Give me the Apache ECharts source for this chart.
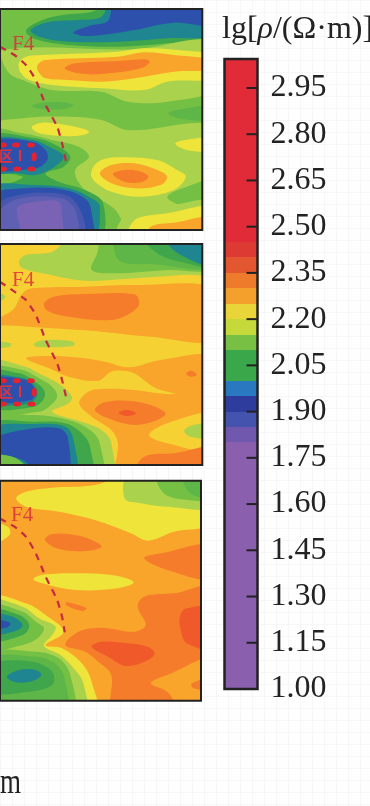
<!DOCTYPE html>
<html>
<head>
<meta charset="utf-8">
<title>lg resistivity sections</title>
<script src="https://cdn.jsdelivr.net/npm/echarts@6/dist/echarts.min.js"></script>
<style>
html, body { margin: 0; padding: 0; overflow: hidden; background-color: #fefefe; }
body {
    background-image: linear-gradient(#f6f6f6 1px, transparent 1px), linear-gradient(90deg, #f6f6f6 1px, transparent 1px);
    background-size: 12px 12px;
}
#main { width: 370px; height: 806px; }
</style>
</head>
<body>
<div id="main"></div>
<script>
// colour bar: lower edge of each band, top of the scale is 3.044
const barEdges = [1.0, 1.8, 1.85, 1.9, 1.95, 2.0, 2.1, 2.15, 2.2, 2.25, 2.3, 2.35, 2.4, 2.45, 3.044]
const barColors = ['#8a5fae', '#6f58ae', '#4453ad', '#2e3d9d', '#2a78c0', '#39a74a', '#78c044', '#c6d93b',
    '#e9d53a', '#f3a02c', '#ee7a2b', '#e2572f', '#dd3a34', '#e12b38']
const barTicks = [1.15, 1.3, 1.45, 1.6, 1.75, 1.9, 2.05, 2.2, 2.35, 2.5, 2.65, 2.8, 2.95]

// levels used in the sections and how they were printed there
const LV = { c: 1.8, p: 1.85, i: 1.875, b: 1.9, t: 1.975, g: 2.05, m: 2.1, l: 2.125, y: 2.175, e: 2.225, o: 2.275, a: 2.325, d: 2.375, r: 2.425 }
const mapColors = {
    1.8: '#7a63b4', 1.85: '#5f5fb3', 1.875: '#4858ae', 1.9: '#2d50ad', 1.975: '#1f8590', 2.05: '#3fa64b',
    2.1: '#5db647', 2.125: '#74c045', 2.175: '#abd24c', 2.225: '#efe43a', 2.275: '#f6d133', 2.325: '#f9a52b',
    2.375: '#f47c2b', 2.425: '#f0592a'
}

// traced contour regions [level, outline], painted in order
const section1 = [
    [LV.l, [[-40, -20], [650, -20], [650, 720], [-40, 720]]],
    [LV.g, [[70, 92], [120, 60], [180, 45], [280, 32], [320, -5], [650, -5], [650, 112], [500, 130], [350, 140], [200, 135], [100, 118]]],
    [LV.t, [[85, 90], [140, 66], [230, 60], [300, 50], [335, -5], [650, -5], [650, 100], [500, 115], [350, 125], [200, 125], [110, 110]]],
    [LV.b, [[215, 97], [270, 76], [320, 62], [345, -5], [650, -5], [650, 74], [520, 68], [400, 90], [300, 105], [240, 107]]],
    [LV.y, [[0, 150], [400, 148], [650, 125], [650, 262], [500, 305], [380, 305], [300, 275], [150, 270], [60, 240], [15, 215]]],
    [LV.e, [[48, 190], [70, 170], [120, 165], [350, 155], [430, 145], [530, 150], [650, 170], [650, 232], [500, 245], [430, 270], [300, 265], [150, 255], [80, 240], [55, 220]]],
    [LV.a, [[105, 195], [130, 180], [350, 170], [430, 157], [520, 165], [650, 182], [650, 207], [520, 215], [400, 235], [300, 245], [200, 240], [130, 235], [108, 215]]],
    [LV.d, [[188, 205], [220, 190], [350, 183], [430, 178], [447, 185], [420, 205], [300, 222], [230, 220]]],
    [LV.m, [[90, 315], [160, 305], [215, 315], [180, 328], [100, 325]]],
    [LV.m, [[503, 340], [560, 325], [650, 318], [650, 358], [550, 358]]],
    [LV.y, [[-40, 385], [60, 355], [200, 350], [300, 360], [380, 390], [650, 390], [650, 720], [-40, 720]]],
    [LV.l, [[500, 590], [560, 560], [650, 540], [650, 620], [540, 615]]],
    [LV.e, [[525, 430], [570, 418], [650, 413], [650, 452], [560, 450]]],
    [LV.e, [[88, 380], [120, 368], [190, 375], [250, 388], [262, 398], [220, 408], [140, 405], [100, 395]]],
    [LV.l, [[-40, 395], [60, 400], [150, 420], [230, 440], [262, 470], [220, 510], [240, 560], [300, 600], [350, 640], [370, 720], [-40, 720]]],
    [LV.g, [[-40, 415], [100, 415], [170, 440], [205, 470], [185, 500], [130, 520], [170, 545], [250, 570], [305, 610], [290, 720], [-40, 720]]],
    [LV.l, [[-40, 520], [60, 530], [20, 550], [-40, 555]]],
    [LV.t, [[-40, 420], [90, 420], [150, 445], [185, 470], [150, 505], [100, 525], [40, 520], [-40, 515]]],
    [LV.t, [[-40, 565], [100, 555], [200, 565], [270, 595], [295, 620], [270, 720], [-40, 720]]],
    [LV.b, [[-40, 425], [90, 425], [130, 450], [135, 480], [100, 505], [-40, 505]]],
    [LV.b, [[-40, 590], [60, 565], [190, 570], [255, 600], [270, 640], [268, 720], [-40, 720]]],
    [LV.i, [[-40, 640], [25, 590], [190, 585], [240, 640], [240, 720], [-40, 720]]],
    [LV.p, [[-40, 670], [35, 600], [180, 595], [222, 635], [220, 720], [-20, 720]]],
    [LV.c, [[45, 620], [100, 605], [170, 605], [180, 640], [175, 720], [70, 720], [45, 650]]],
    [LV.y, [[350, 720], [370, 650], [500, 620], [650, 605], [650, 720]]],
    [LV.e, [[385, 682], [410, 655], [500, 640], [650, 622], [650, 720], [380, 720]]],
    [LV.a, [[450, 680], [520, 668], [650, 652], [650, 720], [440, 720]]],
    [LV.e, [[268, 520], [290, 485], [350, 472], [470, 480], [530, 510], [557, 530], [520, 570], [420, 590], [330, 575], [280, 545]]],
    [LV.a, [[295, 520], [330, 495], [400, 490], [470, 510], [500, 530], [480, 555], [400, 565], [330, 550]]],
    [LV.d, [[335, 522], [370, 510], [420, 515], [443, 530], [420, 547], [370, 545]]]
]
const section2 = [
    [LV.o, [[-40, -20], [650, -20], [650, 720], [-40, 720]]],
    [LV.y, [[48, 65], [70, 45], [150, 35], [215, -10], [650, -10], [650, 95], [540, 105], [400, 115], [250, 122], [120, 100], [60, 85]]],
    [LV.l, [[270, 90], [285, 45], [310, -10], [650, -10], [650, 85], [500, 90], [340, 100]]],
    [LV.m, [[345, -10], [345, 50], [375, 70], [450, 72], [650, 82], [650, -10]]],
    [LV.g, [[430, -10], [470, 40], [540, 65], [650, 78], [650, -10]]],
    [LV.t, [[495, -10], [530, 38], [650, 78], [650, -10]]],
    [LV.a, [[-40, 250], [30, 210], [60, 160], [90, 145], [250, 140], [400, 135], [650, 150], [650, 297], [450, 290], [300, 275], [150, 265], [50, 258]]],
    [LV.d, [[125, 190], [155, 170], [250, 162], [400, 163], [415, 190], [395, 215], [330, 240], [200, 230], [135, 212]]],
    [LV.y, [[95, 310], [130, 300], [215, 305], [215, 318], [100, 320]]],
    [LV.y, [[-40, 305], [25, 310], [20, 320], [-40, 322]]],
    [LV.y, [[-40, 155], [8, 170], [-40, 195]]],
    [LV.a, [[70, 355], [130, 348], [220, 352], [310, 365], [385, 382], [480, 360], [650, 350], [650, 462], [480, 450], [400, 400], [375, 393], [330, 395], [290, 422], [200, 410], [140, 385]]],
    [LV.d, [[558, 400], [575, 392], [590, 405], [570, 410]]],
    [LV.a, [[232, 490], [260, 455], [300, 447], [400, 450], [500, 462], [650, 458], [650, 720], [350, 720], [350, 610], [330, 570], [270, 530]]],
    [LV.o, [[445, 585], [500, 550], [650, 522], [650, 630], [500, 610]]],
    [LV.y, [[552, 572], [580, 555], [650, 550], [650, 592], [570, 590]]],
    [LV.d, [[280, 510], [310, 487], [380, 482], [450, 495], [495, 520], [470, 540], [400, 555], [320, 535]]],
    [LV.r, [[352, 518], [380, 510], [405, 520], [380, 528]]],
    [LV.d, [[405, 700], [430, 650], [520, 640], [650, 625], [650, 720]]],
    [LV.y, [[-40, 370], [60, 378], [120, 405], [175, 435], [210, 470], [200, 490], [150, 515], [240, 545], [300, 570], [330, 610], [325, 720], [-40, 720]]],
    [LV.l, [[-40, 385], [60, 390], [110, 415], [150, 440], [165, 470], [140, 500], [110, 515], [-40, 518]]],
    [LV.l, [[-40, 540], [90, 525], [200, 540], [265, 570], [295, 610], [295, 720], [-40, 720]]],
    [LV.g, [[-40, 395], [50, 400], [90, 420], [125, 450], [125, 475], [95, 500], [-40, 500]]],
    [LV.g, [[-40, 555], [100, 545], [190, 550], [240, 580], [265, 620], [265, 720], [-40, 720]]],
    [LV.t, [[-40, 410], [50, 412], [90, 430], [105, 460], [90, 485], [40, 495], [-40, 490]]],
    [LV.t, [[-40, 570], [100, 552], [190, 560], [215, 600], [215, 720], [-40, 720]]],
    [LV.b, [[-40, 418], [70, 420], [97, 450], [85, 480], [-40, 482]]],
    [LV.b, [[-40, 600], [60, 570], [170, 565], [198, 595], [195, 720], [100, 690], [60, 660], [-40, 630]]],
    [LV.l, [[-40, 652], [40, 655], [95, 720], [-40, 720]]]
]
const section3 = [
    [LV.a, [[-40, -20], [650, -20], [650, 720], [-40, 720]]],
    [LV.e, [[40, 70], [70, 50], [150, 38], [280, 30], [385, -5], [650, -5], [650, 140], [520, 170], [440, 197], [390, 175], [280, 135], [170, 110], [70, 95]]],
    [LV.y, [[370, 70], [385, -5], [650, -5], [650, 95], [500, 95], [420, 85]]],
    [LV.l, [[470, -5], [490, 55], [560, 75], [650, 70], [650, -5]]],
    [LV.m, [[550, -5], [570, 55], [650, 65], [650, -5]]],
    [LV.d, [[128, 195], [150, 177], [220, 180], [270, 195], [300, 215], [250, 228], [170, 222]]],
    [LV.d, [[430, 250], [480, 235], [650, 210], [650, 312], [500, 285]]],
    [LV.e, [[92, 312], [130, 298], [250, 295], [350, 303], [398, 322], [350, 340], [220, 345], [120, 325]]],
    [LV.e, [[-40, 145], [15, 155], [20, 180], [-40, 208]]],
    [LV.d, [[195, 382], [255, 400], [240, 408], [192, 390]]],
    [LV.d, [[190, 510], [230, 470], [300, 458], [400, 470], [435, 450], [410, 395], [430, 365], [520, 355], [650, 340], [650, 720], [530, 720], [335, 720], [330, 600], [290, 560], [250, 530]]],
    [LV.a, [[450, 625], [500, 600], [650, 550], [650, 720], [535, 690], [500, 650]]],
    [LV.r, [[540, 420], [560, 400], [650, 400], [650, 520], [560, 505], [540, 460]]],
    [LV.r, [[270, 515], [300, 500], [380, 505], [440, 515], [462, 537], [420, 565], [370, 572], [320, 545]]],
    [LV.d, [[575, 625], [650, 605], [650, 645], [580, 640]]],
    [LV.e, [[-40, 370], [70, 385], [130, 420], [185, 470], [130, 510], [180, 520], [240, 565], [270, 620], [280, 720], [-40, 720]]],
    [LV.y, [[-40, 382], [60, 395], [110, 430], [160, 455], [150, 480], [125, 512], [175, 540], [220, 585], [245, 625], [248, 720], [-40, 720]]],
    [LV.l, [[-40, 392], [60, 410], [100, 440], [125, 460], [105, 490], [60, 510], [-40, 520]]],
    [LV.l, [[-40, 540], [100, 530], [170, 550], [205, 600], [210, 720], [-40, 720]]],
    [LV.g, [[-40, 405], [50, 420], [80, 450], [60, 480], [-40, 495]]],
    [LV.m, [[-40, 555], [100, 545], [165, 570], [190, 620], [190, 720], [-40, 720]]],
    [LV.g, [[-40, 570], [90, 560], [150, 590], [150, 630], [80, 650], [-40, 650]]],
    [LV.t, [[-40, 420], [30, 425], [60, 452], [30, 470], [-40, 478]]],
    [LV.t, [[12, 605], [50, 585], [100, 585], [117, 600], [90, 618], [40, 622]]],
    [LV.b, [[-40, 435], [15, 440], [23, 448], [10, 458], [-40, 460]]]
]

// fault F4
const fault1 = [[-10, 140], [35, 165], [70, 195], [100, 240], [130, 315], [165, 380], [180, 430], [192, 485]]
const fault2 = [[-10, 125], [35, 155], [70, 180], [100, 225], [130, 300], [165, 370], [180, 420], [192, 470]]
const fault3 = [[-10, 130], [35, 155], [70, 185], [100, 235], [130, 305], [165, 375], [180, 425], [188, 472]]

// dotted outline of the low-resistivity zone, last point is the one on the right side
const zone1 = [[0, 435], [40, 435], [85, 435], [0, 507], [43, 507], [87, 507], [95, 470]]
const zone2 = [[0, 422], [42, 422], [85, 422], [0, 492], [43, 492], [87, 492], [95, 457]]

const xRange1 = [-9, 607]
const xRange3 = [-9, 603]
const yRange1 = [27, 690]
const yRange2 = [12, 675]
const yRange3 = [17, 677]

const FONT = '"Liberation Serif", "Times New Roman", serif'

function regionSeries(idx, regions) {
    return {
        type: 'custom',
        xAxisIndex: idx,
        yAxisIndex: idx,
        clip: true,
        silent: true,
        z: 2,
        data: regions.map((r, i) => [i, r[0]]),
        renderItem: (params, api) => {
            const r = regions[api.value(0)]
            return {
                type: 'polygon',
                shape: { points: r[1].map(p => api.coord(p)), smooth: 0.35 },
                style: { fill: mapColors[r[0]] }
            }
        }
    }
}

function faultSeries(idx, pts) {
    return {
        type: 'line',
        xAxisIndex: idx,
        yAxisIndex: idx,
        data: pts,
        symbol: 'none',
        smooth: 0.2,
        clip: true,
        silent: true,
        z: 4,
        lineStyle: { color: '#c62a40', width: 2.2, type: [7, 6] }
    }
}

function zoneSeries(idx, pts) {
    return {
        type: 'scatter',
        xAxisIndex: idx,
        yAxisIndex: idx,
        data: pts,
        clip: true,
        silent: true,
        z: 4,
        symbol: 'circle',
        symbolSize: (v, p) => p.dataIndex === pts.length - 1 ? [5, 9] : [8, 5],
        itemStyle: { color: '#e8212f', opacity: 1 }
    }
}

// black box round one grid
function frameSeries(idx, xr, yr, w) {
    return {
        type: 'custom',
        xAxisIndex: idx,
        yAxisIndex: idx,
        silent: true,
        z: 6,
        data: [[0]],
        renderItem: (params, api) => {
            const a = api.coord([xr[0], yr[0]])
            const b = api.coord([xr[1], yr[1]])
            return {
                type: 'rect',
                shape: { x: a[0], y: a[1], width: b[0] - a[0], height: b[1] - a[1] },
                style: { fill: 'none', stroke: '#222', lineWidth: w }
            }
        }
    }
}

function hiddenX(gridIndex, r) {
    return { type: 'value', gridIndex: gridIndex, min: r[0], max: r[1], show: false }
}
function hiddenY(gridIndex, r) {
    return { type: 'value', gridIndex: gridIndex, min: r[0], max: r[1], inverse: true, show: false }
}

function redLabel(text, x, y, color) {
    return {
        type: 'text', x: x, y: y, z: 20,
        style: { text: text, fill: color, font: '21px ' + FONT }
    }
}

var chartDom = document.getElementById('main');
var myChart = echarts.init(chartDom, null, { renderer: 'canvas' });
var option;

option = {
    animation: false,
    backgroundColor: 'transparent',
    grid: [
        { left: -3, top: 9, width: 205.3, height: 221 },
        { left: -3, top: 244, width: 205.3, height: 221 },
        { left: -3, top: 480.7, width: 204, height: 220 },
        { left: 224.5, top: 59, width: 33, height: 630 }
    ],
    xAxis: [hiddenX(0, xRange1), hiddenX(1, xRange1), hiddenX(2, xRange3), hiddenX(3, [0, 1])],
    yAxis: [
        hiddenY(0, yRange1),
        hiddenY(1, yRange2),
        hiddenY(2, yRange3),
        {
            type: 'value',
            gridIndex: 3,
            position: 'right',
            min: 1,
            max: 3.044,
            interval: 0.15,
            axisLine: { show: false },
            splitLine: { show: false },
            axisTick: { show: false },
            axisLabel: {
                show: true,
                margin: 13,
                fontFamily: FONT,
                fontSize: 32,
                color: '#222',
                showMaxLabel: false,
                formatter: v => v > 2.96 ? '' : v.toFixed(2)
            }
        }
    ],
    series: [
        regionSeries(0, section1),
        faultSeries(0, fault1),
        zoneSeries(0, zone1),
        frameSeries(0, xRange1, yRange1, 2),
        regionSeries(1, section2),
        faultSeries(1, fault2),
        zoneSeries(1, zone2),
        frameSeries(1, xRange1, yRange2, 2),
        regionSeries(2, section3),
        faultSeries(2, fault3),
        frameSeries(2, xRange3, yRange3, 2),
        {
            type: 'custom',
            xAxisIndex: 3,
            yAxisIndex: 3,
            silent: true,
            z: 2,
            data: barColors.map((c, i) => [i]),
            renderItem: (params, api) => {
                const i = api.value(0)
                const a = api.coord([0, barEdges[i + 1]])
                const b = api.coord([1, barEdges[i]])
                const top = Math.round(a[1])
                return {
                    type: 'rect',
                    shape: { x: a[0], y: top, width: b[0] - a[0], height: Math.round(b[1]) - top },
                    style: { fill: barColors[i] }
                }
            }
        },
        {
            // tick marks pointing into the bar from its right side
            type: 'custom',
            xAxisIndex: 3,
            yAxisIndex: 3,
            silent: true,
            z: 7,
            data: barTicks.map(t => [1, t]),
            renderItem: (params, api) => {
                const p = api.coord([api.value(0), api.value(1)])
                return {
                    type: 'line',
                    shape: { x1: p[0] - 11, y1: p[1], x2: p[0], y2: p[1] },
                    style: { stroke: '#222', lineWidth: 2 }
                }
            }
        },
        frameSeries(3, [0, 1], [1, 3.044], 2.5)
    ],
    graphic: [
        redLabel('F4', 12, 34, '#c9473f'),
        redLabel('F4', 12, 270, '#e04a3c'),
        redLabel('F4', 11, 505, '#e0403a'),
        {
            type: 'text', x: -1, y: 149, z: 20,
            style: { text: '区Ⅰ', fill: '#e0333f', font: 'bold 14px "Noto Sans CJK SC"' }
        },
        {
            type: 'text', x: -1, y: 385, z: 20,
            style: { text: '区Ⅰ', fill: '#e0333f', font: 'bold 14px "Noto Sans CJK SC"' }
        },
        {
            type: 'text', x: 222, y: 14, z: 20,
            style: {
                text: '{n|lg[}{i|ρ}{n|/(Ω·m)]}',
                rich: {
                    n: { font: '32px ' + FONT, fill: '#222' },
                    i: { font: 'italic 32px ' + FONT, fill: '#222' }
                }
            }
        },
        {
            type: 'text', x: 0, y: 766, z: 20, scaleX: 0.75,
            style: { text: 'm', fill: '#222', font: '36px ' + FONT }
        }
    ]
};
option && myChart.setOption(option);
</script>
</body>
</html>
